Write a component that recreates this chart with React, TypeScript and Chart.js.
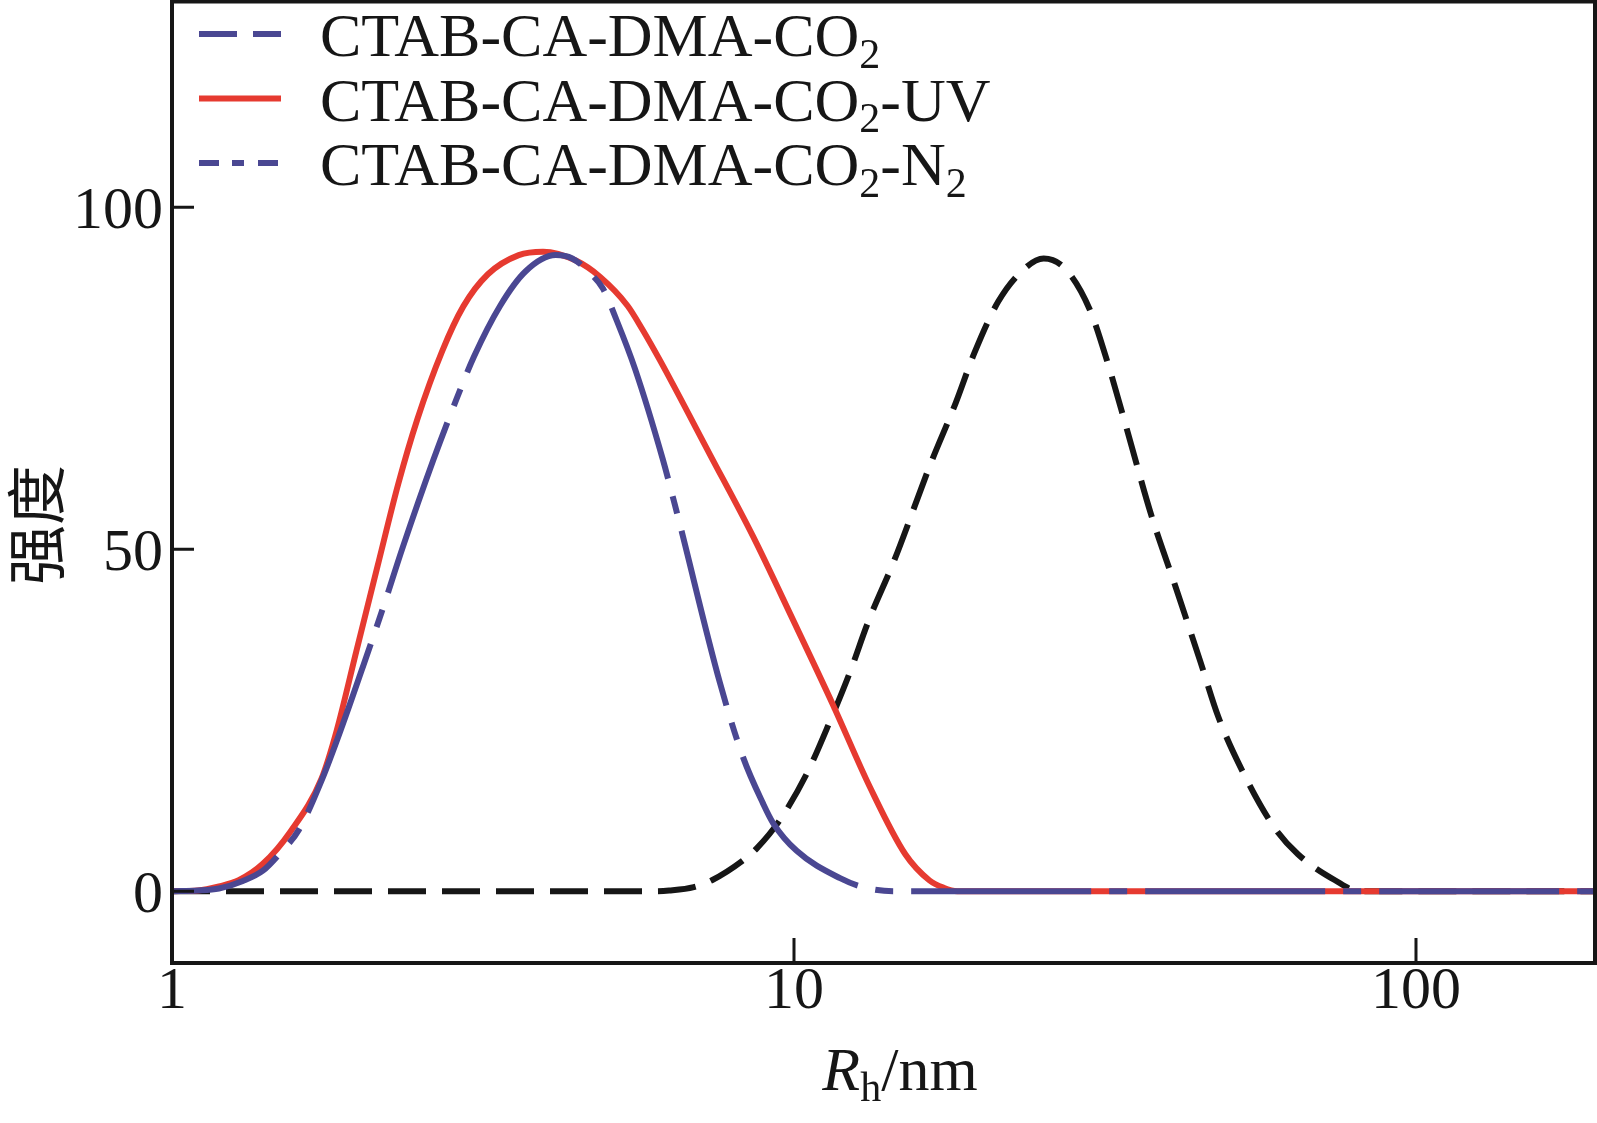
import React, { useEffect, useRef } from "react";
import Chart from "chart.js/auto";

// particle size distribution
const co2X = [1, 3, 6, 6.3, 6.9, 7.38, 8.28, 8.72, 9.49, 10.5, 11.42, 12.3, 13.15, 14.5, 16.6, 18.2, 19.5, 21.3, 23.4, 25.2, 27.3, 29.9, 32, 34.3, 37.5, 41.1, 45, 48.1, 52.7, 59.1, 64.6, 74.1, 81, 120, 194];
const co2Y = [0, 0, 0, 0.1, 0.6, 1.6, 4.5, 6.3, 10.4, 17.3, 24.8, 32, 39.3, 48.4, 62.6, 71.4, 78.7, 86.2, 90.9, 92.5, 91, 85, 77, 67.5, 55.1, 44.4, 33.6, 25.5, 17.4, 9.4, 5.4, 1.6, 0, 0, 0];

const uvX = [1, 1.1, 1.19, 1.28, 1.4, 1.55, 1.74, 1.84, 1.98, 2.14, 2.31, 2.48, 2.72, 2.94, 3.22, 3.61, 3.95, 4.46, 4.88, 5.4, 5.7, 6.09, 7.33, 8.59, 9.96, 11.56, 13.25, 15.1, 16.5, 17.4, 18.3, 30, 60, 100, 194];
const uvY = [0, 0.1, 0.7, 1.6, 4, 8.7, 16.5, 23.5, 35.2, 47.5, 59.5, 69, 79, 85.5, 90.2, 93, 93.5, 92.2, 89.8, 85.6, 82.2, 77.6, 63.8, 51.9, 39.7, 27.2, 15.2, 5.4, 1.6, 0.5, 0, 0, 0, 0, 0];

const n2X = [1, 1.1, 1.19, 1.3, 1.4, 1.49, 1.6, 1.74, 1.88, 2.02, 2.18, 2.35, 2.63, 2.84, 3.06, 3.37, 3.7, 4.14, 4.4, 4.72, 4.93, 5.19, 5.55, 6.15, 6.48, 7.6, 8.28, 8.92, 9.25, 10.1, 11.86, 12.9, 14.5, 30, 60, 100, 194];
const n2Y = [0, 0.1, 0.4, 1.5, 3, 5.5, 9, 16.2, 24.3, 32.4, 41.2, 50.3, 63, 71, 78.2, 85.6, 90.6, 93, 92.5, 90.2, 88.1, 83.4, 76.4, 63.2, 55.4, 30.5, 19.6, 12.8, 10, 5.9, 1.9, 0.6, 0, 0, 0, 0, 0];

// "_x" marks a subscript character
const seriesNames = ["CTAB-CA-DMA-CO_2", "CTAB-CA-DMA-CO_2-UV", "CTAB-CA-DMA-CO_2-N_2"];
const xTicks = [1, 10, 100];
const yTicks = [0, 50, 100];
const yTitle = "强度";

const BLACK = "#161616";
const RED = "#e63a30";
const BLUE = "#4a4792";
const SERIF = '"Liberation Serif", "Times New Roman", serif';

const legendColors = [BLUE, RED, BLUE];
const legendDash = [[38, 16], [], [20, 13, 12, 14]];

const plain = (s: string) => s.replace(/_2/g, "₂");

// draws text with "_x" subscripts, returns width
const drawRich = (ctx: CanvasRenderingContext2D, x: number, y: number, text: string, size: number) => {
  let cx = x;
  let buf = "";
  const flush = () => {
    if (!buf) return;
    ctx.font = `${size}px ${SERIF}`;
    ctx.fillText(buf, cx, y);
    cx += ctx.measureText(buf).width;
    buf = "";
  };
  for (let i = 0; i < text.length; i++) {
    if (text[i] === "_") {
      flush();
      const s = text[i + 1];
      ctx.font = `${Math.round(size * 0.68)}px ${SERIF}`;
      ctx.fillText(s, cx, y + size * 0.19);
      cx += ctx.measureText(s).width;
      i++;
    } else {
      buf += text[i];
    }
  }
  flush();
  return cx - x;
};

const decorPlugin = {
  id: "decor",
  afterDraw(chart: any) {
    const ctx: CanvasRenderingContext2D = chart.ctx;
    const { left, right, top, bottom } = chart.chartArea;
    const xs = chart.scales.x;
    const ys = chart.scales.y;
    ctx.save();
    ctx.strokeStyle = BLACK;
    ctx.fillStyle = BLACK;

    // frame
    ctx.lineWidth = 4;
    ctx.strokeRect(left, top - 0.5, right - left, bottom - top + 0.5);

    // inward ticks
    ctx.lineWidth = 3;
    ctx.beginPath();
    xTicks.forEach((v) => {
      if (v <= 1) return;
      const px = xs.getPixelForValue(v);
      ctx.moveTo(px, bottom);
      ctx.lineTo(px, bottom - 25);
    });
    yTicks.forEach((v) => {
      const py = ys.getPixelForValue(v);
      ctx.moveTo(left, py);
      ctx.lineTo(left + 22, py);
    });
    ctx.stroke();

    // legend
    ctx.lineWidth = 6;
    ctx.textAlign = "left";
    ctx.textBaseline = "alphabetic";
    seriesNames.forEach((name, i) => {
      const sy = 34 + i * 64.5;
      ctx.strokeStyle = legendColors[i];
      ctx.setLineDash(legendDash[i]);
      ctx.beginPath();
      ctx.moveTo(199, sy);
      ctx.lineTo(281, sy);
      ctx.stroke();
      ctx.setLineDash([]);
      ctx.fillStyle = BLACK;
      drawRich(ctx, 320, sy + 22, name, 62);
    });

    // x title: R_h/nm
    const base = 1090;
    ctx.font = `italic 62px ${SERIF}`;
    const wR = ctx.measureText("R").width;
    ctx.font = `42px ${SERIF}`;
    const wh = ctx.measureText("h").width;
    ctx.font = `62px ${SERIF}`;
    const wn = ctx.measureText("/nm").width;
    let tx = 900 - (wR + wh + wn) / 2;
    ctx.font = `italic 62px ${SERIF}`;
    ctx.fillText("R", tx, base);
    tx += wR;
    ctx.font = `42px ${SERIF}`;
    ctx.fillText("h", tx, base + 11);
    tx += wh;
    ctx.font = `62px ${SERIF}`;
    ctx.fillText("/nm", tx, base);

    // y title
    ctx.translate(36, 525);
    ctx.rotate(-Math.PI / 2);
    ctx.textAlign = "center";
    ctx.textBaseline = "middle";
    ctx.font = `60px "Noto Sans CJK SC", sans-serif`;
    ctx.fillText(yTitle, 0, 0);
    ctx.restore();
  },
};

const App: React.FC = () => {
  const canvasRef = useRef<HTMLCanvasElement | null>(null);

  useEffect(() => {
    if (!canvasRef.current) return;
    const toPoints = (xs: number[], ys: number[]) => xs.map((x, i) => ({ x, y: ys[i] }));
    const common = {
      pointRadius: 0,
      borderWidth: 6,
      fill: false,
      cubicInterpolationMode: "monotone" as const,
    };
    const chart = new Chart(canvasRef.current, {
      type: "line",
      data: {
        datasets: [
          { ...common, label: plain(seriesNames[0]), data: toPoints(co2X, co2Y), borderColor: BLACK, borderDash: [38, 16], order: 2 },
          { ...common, label: plain(seriesNames[1]), data: toPoints(uvX, uvY), borderColor: RED, order: 1 },
          {
            ...common,
            label: plain(seriesNames[2]),
            data: toPoints(n2X, n2Y),
            borderColor: BLUE,
            borderDash: [180, 18, 18, 18],
            borderDashOffset: 65,
            order: 0,
          },
        ],
      },
      options: {
        animation: false,
        responsive: true,
        maintainAspectRatio: false,
        layout: { padding: { top: 2, right: 2, left: 0, bottom: 0 } },
        plugins: { legend: { display: false }, tooltip: { enabled: false } },
        scales: {
          x: {
            type: "logarithmic",
            min: 1,
            max: 194,
            grid: { display: false, drawTicks: false },
            border: { display: false },
            afterBuildTicks: (s: any) => {
              s.ticks = xTicks.map((v) => ({ value: v }));
            },
            afterFit: (s: any) => {
              s.height = 160;
              s.paddingLeft = 0;
              s.paddingRight = 0;
            },
            ticks: {
              padding: -7,
              autoSkip: false,
              maxRotation: 0,
              color: BLACK,
              font: { family: SERIF, size: 60 },
              callback: (v: any) => String(v),
            },
          },
          y: {
            min: -10.5,
            max: 130,
            grid: { display: false, drawTicks: false },
            border: { display: false },
            afterBuildTicks: (s: any) => {
              s.ticks = yTicks.map((v) => ({ value: v }));
            },
            afterFit: (s: any) => {
              s.width = 172;
              s.paddingTop = 0;
              s.paddingBottom = 0;
            },
            ticks: {
              padding: 9,
              labelOffset: 5,
              color: BLACK,
              font: { family: SERIF, size: 60 },
              callback: (v: any) => String(v),
            },
          },
        },
      },
      plugins: [decorPlugin],
    });
    return () => chart.destroy();
  }, []);

  return (
    <div style={{ position: "absolute", left: 0, top: 0, width: "1597px", height: "1123px", background: "#fff" }}>
      <canvas ref={canvasRef}></canvas>
    </div>
  );
};

export default App;
